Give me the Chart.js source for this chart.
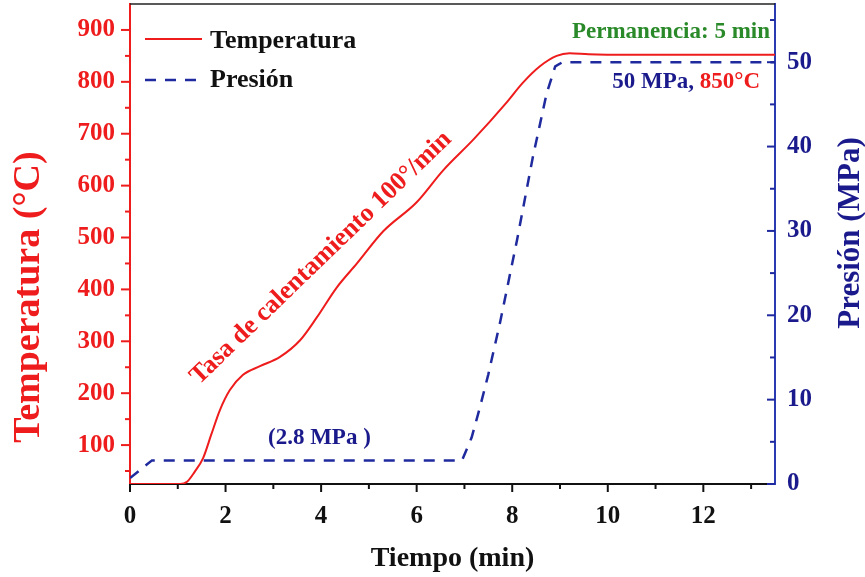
<!DOCTYPE html>
<html>
<head>
<meta charset="utf-8">
<script src="https://cdn.jsdelivr.net/npm/chart.js@4.4.0/dist/chart.umd.min.js"></script>
<style>
  html, body { margin: 0; background: #fff; }
</style>
</head>
<body>
<canvas id="grafico" width="865" height="577"></canvas>
<script>
// datos
var tiempoTemp = [0, 1.05, 1.2, 1.35, 1.53, 1.7, 1.88, 2.09, 2.36, 2.72, 3.14, 3.56, 3.91, 4.33, 4.75, 5.3, 6.0, 6.55, 7.2, 7.88, 8.22, 8.58, 8.93, 9.2, 9.6, 10.5, 12, 13.5];
var temperatura = [25, 25, 30, 48, 75, 120, 167, 206, 235, 252, 270, 302, 346, 404, 450, 512, 568, 629, 690, 760, 798, 830, 850, 855, 853, 852, 852, 852];
var tiempoPres = [0, 0.46, 6.95, 7.15, 7.32, 7.5, 7.74, 8.1, 8.43, 8.72, 8.9, 9.05, 13.5];
var presion = [0.7, 2.8, 2.8, 5.5, 9, 13, 19, 28.9, 38.7, 46.3, 49.5, 50, 50];

var ticksTiempo = [0, 1, 2, 3, 4, 5, 6, 7, 8, 9, 10, 11, 12, 13];
var ticksTemp = [50, 100, 150, 200, 250, 300, 350, 400, 450, 500, 550, 600, 650, 700, 750, 800, 850, 900];
var ticksPres = [0, 5, 10, 15, 20, 25, 30, 35, 40, 45, 50, 55];

var rojo = '#ee1c1c';
var azul = '#1a1a8c';
var lineaAzul = '#1f2a9e';
var verde = '#2a8a2a';
var fuente = 'Liberation Serif';

function puntos(xs, ys) {
    return xs.map(function (x, i) { return { x: x, y: ys[i] }; });
}

function fijarTicks(lista) {
    return function (scale) {
        scale.ticks = lista.map(function (v) { return { value: v }; });
    };
}

// marcas de los ejes, titulos, leyenda y notas
var decoracion = {
    id: 'decoracion',
    afterDraw: function (chart) {
        var ctx = chart.ctx;
        var area = chart.chartArea;
        var sx = chart.scales.x, sy = chart.scales.y, sp = chart.scales.y2;
        ctx.save();

        // borde superior
        ctx.strokeStyle = '#222';
        ctx.lineWidth = 1.5;
        ctx.beginPath();
        ctx.moveTo(area.left, area.top);
        ctx.lineTo(area.right, area.top);
        ctx.stroke();

        ctx.lineWidth = 2;
        ticksTiempo.forEach(function (v) {
            var px = sx.getPixelForValue(v);
            var len = v % 2 === 0 ? 8 : 5;
            ctx.strokeStyle = '#111';
            ctx.beginPath();
            ctx.moveTo(px, area.bottom);
            ctx.lineTo(px, area.bottom + len);
            ctx.stroke();
        });
        ticksTemp.forEach(function (v) {
            var py = sy.getPixelForValue(v);
            var len = v % 100 === 0 ? 9 : 5;
            ctx.strokeStyle = rojo;
            ctx.beginPath();
            ctx.moveTo(area.left, py);
            ctx.lineTo(area.left - len, py);
            ctx.stroke();
        });
        ticksPres.forEach(function (v) {
            var py = sp.getPixelForValue(v);
            var len = v % 10 === 0 ? 8 : 5;
            ctx.strokeStyle = lineaAzul;
            ctx.beginPath();
            ctx.moveTo(area.right, py);
            ctx.lineTo(area.right - len, py);
            ctx.stroke();
        });

        // titulos de los ejes
        ctx.textAlign = 'center';
        ctx.textBaseline = 'middle';
        ctx.fillStyle = '#111';
        ctx.font = 'bold 28px "' + fuente + '"';
        ctx.fillText('Tiempo (min)', (area.left + area.right) / 2, 559);

        ctx.save();
        ctx.font = 'bold 38px "' + fuente + '"';
        ctx.translate(29, 297);
        ctx.rotate(-Math.PI / 2);
        ctx.fillStyle = rojo;
        ctx.fillText('Temperatura (°C)', 0, 0);
        ctx.restore();

        ctx.save();
        ctx.font = 'bold 31px "' + fuente + '"';
        ctx.translate(851, 233);
        ctx.rotate(-Math.PI / 2);
        ctx.fillStyle = azul;
        ctx.fillText('Presión (MPa)', 0, 0);
        ctx.restore();

        // leyenda
        ctx.lineWidth = 2;
        ctx.strokeStyle = rojo;
        ctx.beginPath();
        ctx.moveTo(145, 39);
        ctx.lineTo(202, 39);
        ctx.stroke();
        ctx.strokeStyle = lineaAzul;
        ctx.lineWidth = 2.5;
        ctx.setLineDash([11, 9]);
        ctx.beginPath();
        ctx.moveTo(145, 80);
        ctx.lineTo(202, 80);
        ctx.stroke();
        ctx.setLineDash([]);

        ctx.font = 'bold 26px "' + fuente + '"';
        ctx.textAlign = 'left';
        ctx.fillStyle = '#111';
        ctx.fillText('Temperatura', 210, 41);
        ctx.fillText('Presión', 210, 80);

        // notas
        ctx.font = 'bold 23px "' + fuente + '"';
        ctx.textAlign = 'right';
        ctx.fillStyle = verde;
        ctx.fillText('Permanencia: 5 min', 770, 32);

        var parte2 = '850°C';
        var w2 = ctx.measureText(parte2).width;
        ctx.fillStyle = rojo;
        ctx.fillText(parte2, 760, 82);
        ctx.fillStyle = azul;
        ctx.fillText('50 MPa, ', 760 - w2, 82);

        ctx.textAlign = 'left';
        ctx.fillText('(2.8 MPa )', 268, 438);

        ctx.save();
        ctx.font = 'bold 26px "' + fuente + '"';
        ctx.textAlign = 'center';
        ctx.translate(321, 258);
        ctx.rotate(-44 * Math.PI / 180);
        ctx.fillStyle = rojo;
        ctx.fillText('Tasa de calentamiento 100°/min', 0, 0);
        ctx.restore();

        ctx.restore();
    }
};

function sinRelleno(s) {
    s.paddingTop = 0;
    s.paddingBottom = 0;
    s.paddingLeft = 0;
    s.paddingRight = 0;
}

var ctx = document.getElementById('grafico').getContext('2d');
var grafico = new Chart(ctx, {
    type: 'line',
    data: {
        datasets: [{
            label: 'Temperatura',
            data: puntos(tiempoTemp, temperatura),
            borderColor: rojo,
            borderWidth: 2,
            pointRadius: 0,
            cubicInterpolationMode: 'monotone',
            yAxisID: 'y'
        }, {
            label: 'Presión',
            data: puntos(tiempoPres, presion),
            borderColor: lineaAzul,
            borderWidth: 2.5,
            borderDash: [11, 9],
            pointRadius: 0,
            tension: 0,
            yAxisID: 'y2'
        }]
    },
    options: {
        responsive: false,
        animation: false,
        layout: { padding: { top: 4 } },
        plugins: {
            legend: { display: false },
            tooltip: { enabled: false }
        },
        scales: {
            x: {
                type: 'linear',
                min: 0,
                max: 13.5,
                afterBuildTicks: fijarTicks(ticksTiempo),
                afterFit: function (s) { s.height = 93; sinRelleno(s); },
                grid: { display: false, drawTicks: false },
                border: { color: '#111', width: 2 },
                ticks: {
                    autoSkip: false,
                    maxRotation: 0,
                    padding: 18,
                    color: '#111',
                    font: { family: fuente, size: 25, weight: 'bold' },
                    callback: function (v) { return v % 2 === 0 ? v : ''; }
                }
            },
            y: {
                position: 'left',
                min: 25,
                max: 950,
                afterBuildTicks: fijarTicks(ticksTemp),
                afterFit: function (s) { s.width = 130; sinRelleno(s); },
                grid: { display: false, drawTicks: false },
                border: { color: rojo, width: 2 },
                ticks: {
                    autoSkip: false,
                    padding: 15,
                    color: rojo,
                    font: { family: fuente, size: 25, weight: 'bold' },
                    callback: function (v) { return v % 100 === 0 ? v : ''; }
                }
            },
            y2: {
                position: 'right',
                min: 0,
                max: 56.9,
                afterBuildTicks: fijarTicks(ticksPres),
                afterFit: function (s) { s.width = 90; sinRelleno(s); },
                grid: { display: false, drawTicks: false },
                border: { color: '#2a3ab0', width: 2 },
                ticks: {
                    autoSkip: false,
                    padding: 12,
                    color: azul,
                    font: { family: fuente, size: 25, weight: 'bold' },
                    callback: function (v) { return v % 10 === 0 ? v : ''; }
                }
            }
        }
    },
    plugins: [decoracion]
});
</script>
</body>
</html>
